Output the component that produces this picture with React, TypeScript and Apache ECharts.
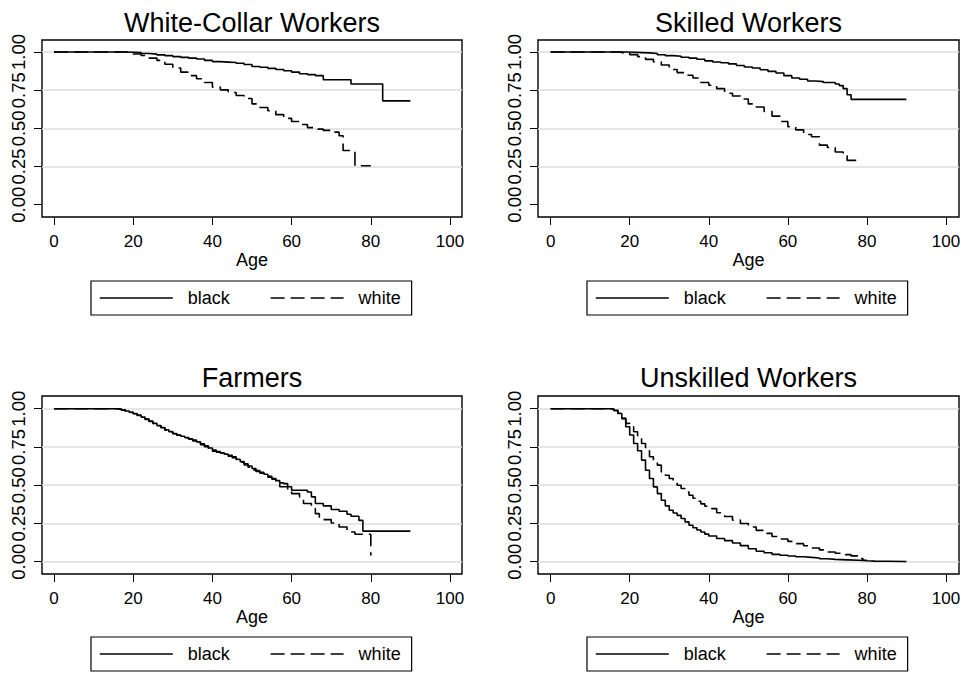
import React, { useEffect, useRef } from 'react';
import * as echarts from 'echarts';

const FONT = '"Liberation Sans", Arial, Helvetica, sans-serif';

// ---- text ----
const panelTitles = ['White-Collar Workers', 'Skilled Workers', 'Farmers', 'Unskilled Workers'];
const legendNames = ['black', 'white'];
const xAxisName = 'Age';

// ---- ticks ----
const xTicks = [0, 20, 40, 60, 80, 100];
const yTicks = [0, 0.25, 0.5, 0.75, 1];
const gridLinesTop = [0.25, 0.5, 0.75, 1];
const gridLinesBottom = [0, 0.25, 0.5, 0.75, 1];

// ---- data: [age, survival] (Kaplan-Meier step points) ----
const whiteCollarBlack: [number, number][] = [
  [0, 1], [17, 1], [18, 0.998], [20, 0.996], [22, 0.99], [24, 0.986], [26, 0.981], [28, 0.976],
  [30, 0.97], [32, 0.965], [34, 0.96], [36, 0.954], [38, 0.945], [40, 0.937], [42, 0.934],
  [44, 0.931], [46, 0.926], [48, 0.918], [50, 0.905], [52, 0.9], [54, 0.893], [56, 0.885],
  [58, 0.877], [60, 0.868], [62, 0.858], [64, 0.852], [66, 0.845], [68, 0.818], [75, 0.79],
  [83, 0.68], [90, 0.68],
];
const whiteCollarWhite: [number, number][] = [
  [0, 1], [17, 1], [18, 0.996], [20, 0.987], [22, 0.977], [24, 0.96], [26, 0.945], [28, 0.92],
  [30, 0.895], [32, 0.868], [34, 0.845], [36, 0.825], [38, 0.8], [40, 0.77], [42, 0.752],
  [44, 0.735], [46, 0.715], [48, 0.695], [50, 0.66], [52, 0.637], [54, 0.615], [56, 0.59],
  [58, 0.565], [60, 0.545], [62, 0.525], [64, 0.505], [66, 0.495], [68, 0.487], [70, 0.475],
  [72, 0.452], [73, 0.355], [76, 0.255], [80, 0.255],
];
const skilledBlack: [number, number][] = [
  [0, 1], [17, 1], [19, 0.998], [21, 0.996], [23, 0.994], [25, 0.99], [27, 0.982], [29, 0.976],
  [31, 0.972], [33, 0.966], [35, 0.96], [37, 0.953], [39, 0.942], [41, 0.935], [43, 0.93],
  [45, 0.922], [47, 0.912], [49, 0.902], [51, 0.895], [53, 0.884], [55, 0.873], [57, 0.862],
  [59, 0.845], [61, 0.83], [63, 0.822], [65, 0.81], [67, 0.806], [69, 0.8], [72, 0.79],
  [73, 0.78], [74, 0.76], [75, 0.72], [76, 0.69], [90, 0.69],
];
const skilledWhite: [number, number][] = [
  [0, 1], [17, 1], [18, 0.995], [20, 0.983], [22, 0.97], [24, 0.952], [26, 0.935], [28, 0.915],
  [30, 0.885], [32, 0.865], [34, 0.848], [36, 0.83], [38, 0.8], [40, 0.782], [42, 0.76],
  [44, 0.73], [46, 0.712], [48, 0.692], [50, 0.66], [52, 0.64], [54, 0.61], [56, 0.58],
  [58, 0.545], [60, 0.51], [62, 0.49], [64, 0.46], [66, 0.445], [68, 0.39], [70, 0.375],
  [72, 0.345], [74, 0.32], [75, 0.29], [78.5, 0.29],
];
const farmersBlack: [number, number][] = [
  [0, 1], [15, 1], [16, 0.997], [17, 0.992], [18, 0.985], [19, 0.977], [20, 0.969], [21, 0.958],
  [22, 0.945], [23, 0.932], [24, 0.918], [25, 0.904], [26, 0.89], [27, 0.877], [28, 0.862],
  [29, 0.85], [30, 0.838], [31, 0.828], [32, 0.82], [33, 0.812], [34, 0.804], [35, 0.795],
  [36, 0.783], [37, 0.77], [38, 0.757], [39, 0.743], [40, 0.729], [41, 0.72], [42, 0.712],
  [43, 0.703], [44, 0.695], [45, 0.686], [46, 0.67], [47, 0.655], [48, 0.64], [49, 0.625],
  [50, 0.609], [51, 0.595], [52, 0.585], [53, 0.572], [54, 0.558], [55, 0.544], [56, 0.53],
  [57, 0.515], [58, 0.51], [59, 0.49], [60, 0.467], [64, 0.456], [65, 0.424], [66, 0.38],
  [68, 0.365], [70, 0.341], [72, 0.33], [74, 0.31], [75, 0.297], [77, 0.27], [78, 0.2], [90, 0.2],
];
const farmersWhite: [number, number][] = [
  [0, 1], [15, 1], [16, 0.997], [17, 0.991], [18, 0.984], [19, 0.976], [20, 0.967], [21, 0.956],
  [22, 0.944], [23, 0.93], [24, 0.917], [25, 0.902], [26, 0.889], [27, 0.875], [28, 0.86],
  [29, 0.848], [30, 0.836], [31, 0.826], [32, 0.818], [33, 0.81], [34, 0.8], [35, 0.79],
  [36, 0.778], [37, 0.765], [38, 0.752], [39, 0.738], [40, 0.722], [41, 0.716], [42, 0.71],
  [43, 0.7], [44, 0.69], [45, 0.68], [46, 0.668], [47, 0.65], [48, 0.632], [49, 0.618],
  [50, 0.6], [51, 0.59], [52, 0.578], [53, 0.565], [54, 0.552], [55, 0.54], [56, 0.525],
  [57, 0.49], [59, 0.46], [60, 0.445], [62, 0.424], [63, 0.38], [65, 0.347], [66, 0.314],
  [67, 0.275], [70, 0.253], [72, 0.227], [74, 0.194], [76, 0.179], [80, 0.04],
];
const unskilledBlack: [number, number][] = [
  [0, 1], [14, 1], [15, 0.996], [16, 0.987], [17, 0.969], [18, 0.937], [19, 0.882], [20, 0.828],
  [21, 0.773], [22, 0.725], [23, 0.664], [24, 0.598], [25, 0.544], [26, 0.489], [27, 0.445],
  [28, 0.402], [29, 0.365], [30, 0.336], [31, 0.318], [32, 0.303], [33, 0.282], [34, 0.26],
  [35, 0.238], [36, 0.222], [37, 0.207], [38, 0.194], [39, 0.18], [40, 0.168], [42, 0.152],
  [44, 0.138], [46, 0.122], [48, 0.105], [50, 0.085], [52, 0.068], [54, 0.058], [56, 0.048],
  [58, 0.042], [60, 0.037], [62, 0.032], [64, 0.028], [66, 0.024], [68, 0.019], [70, 0.015],
  [72, 0.012], [75, 0.009], [78, 0.006], [80, 0.004], [82, 0.003], [85, 0.001], [90, 0.001],
];
const unskilledWhite: [number, number][] = [
  [0, 1], [14, 1], [15, 0.997], [16, 0.99], [17, 0.97], [18, 0.935], [19, 0.904], [20, 0.882],
  [21, 0.849], [22, 0.812], [23, 0.773], [24, 0.729], [25, 0.686], [26, 0.66], [27, 0.631],
  [28, 0.587], [29, 0.565], [30, 0.544], [31, 0.522], [32, 0.5], [33, 0.478], [34, 0.456],
  [35, 0.434], [36, 0.415], [37, 0.395], [38, 0.378], [39, 0.362], [40, 0.347], [42, 0.32],
  [44, 0.295], [46, 0.272], [48, 0.25], [50, 0.227], [52, 0.205], [54, 0.185], [56, 0.165],
  [58, 0.148], [60, 0.133], [62, 0.118], [64, 0.104], [66, 0.09], [68, 0.077], [70, 0.063],
  [72, 0.055], [74, 0.046], [76, 0.038], [78, 0.02], [79, 0.009], [80, 0.005],
];

const panelBlack = [whiteCollarBlack, skilledBlack, farmersBlack, unskilledBlack];
const panelWhite = [whiteCollarWhite, skilledWhite, farmersWhite, unskilledWhite];
const panelGridLines = [gridLinesTop, gridLinesTop, gridLinesBottom, gridLinesBottom];

// ---- layout (pixels) ----
const layout = [
  { left: 42, top: 40, width: 420, height: 177, xMin: -3.03, xMax: 103.03, yMin: -0.0806, yMax: 1.0786, titleX: 252, titleY: 9, legendX: 91, legendY: 281 },
  { left: 538, top: 40, width: 421, height: 177, xMin: -3.2, xMax: 103.3, yMin: -0.0806, yMax: 1.0786, titleX: 748.5, titleY: 9, legendX: 587, legendY: 281 },
  { left: 42, top: 396, width: 420, height: 178, xMin: -3.03, xMax: 103.03, yMin: -0.0804, yMax: 1.083, titleX: 252, titleY: 364, legendX: 91, legendY: 637 },
  { left: 538, top: 396, width: 421, height: 178, xMin: -3.2, xMax: 103.3, yMin: -0.0804, yMax: 1.083, titleX: 748.5, titleY: 364, legendX: 587, legendY: 637 },
];

const DASH = [14, 6];

function buildOption() {
  const grid: any[] = [];
  const xAxis: any[] = [];
  const yAxis: any[] = [];
  const title: any[] = [];
  const legend: any[] = [];
  const series: any[] = [];

  layout.forEach((p, i) => {
    grid.push({
      left: p.left, top: p.top, width: p.width, height: p.height,
      show: true, borderColor: '#000', borderWidth: 1.4, backgroundColor: 'transparent',
      containLabel: false, outerBoundsMode: 'none',
    });
    xAxis.push({
      type: 'value', gridIndex: i, min: p.xMin, max: p.xMax,
      name: xAxisName, nameLocation: 'middle', nameGap: 33,
      nameTextStyle: { fontSize: 18, color: '#000', fontFamily: FONT },
      axisLine: { show: false, onZero: false },
      axisTick: { show: true, length: 8, customValues: xTicks, lineStyle: { color: '#000', width: 1 } },
      axisLabel: { customValues: xTicks, fontSize: 17, color: '#000', margin: 16, fontFamily: FONT },
      splitLine: { show: false },
    });
    yAxis.push({
      type: 'value', gridIndex: i, min: p.yMin, max: p.yMax,
      axisLine: { show: false, onZero: false },
      axisTick: { show: true, length: 8, customValues: yTicks, lineStyle: { color: '#000', width: 1 } },
      axisLabel: {
        customValues: yTicks, fontSize: 18.5, color: '#000', margin: 14, rotate: 90, fontFamily: FONT,
        formatter: (v: number) => v.toFixed(2),
      },
      splitLine: { show: false },
    });
    title.push({
      text: panelTitles[i], left: p.titleX, top: p.titleY, textAlign: 'center', padding: 0,
      textStyle: { fontSize: 27, fontWeight: 'normal', color: '#000', fontFamily: FONT },
    });
    legend.push({
      data: legendNames, left: p.legendX, top: p.legendY, orient: 'horizontal',
      itemWidth: 73, itemHeight: 14, itemGap: 40, selectedMode: false,
      padding: [8, 11, 8, 8], borderColor: '#000', borderWidth: 1.2,
      itemStyle: { opacity: 0, borderWidth: 0 },
      lineStyle: { width: 1.6 },
      textStyle: { fontSize: 18, color: '#000', fontFamily: FONT, padding: [0, 0, 0, 10] },
    });
    // gridlines
    series.push({
      type: 'line', name: 'grid' + i, xAxisIndex: i, yAxisIndex: i, data: [], silent: true,
      markLine: {
        silent: true, symbol: ['none', 'none'], z: 1, animation: false,
        label: { show: false },
        lineStyle: { color: '#dcdcdc', width: 1.5, type: 'solid' },
        emphasis: { disabled: true },
        data: panelGridLines[i].map((v) => ({ yAxis: v })),
      },
    });
    series.push({
      type: 'line', name: legendNames[0], xAxisIndex: i, yAxisIndex: i, step: 'end',
      symbol: 'none', showSymbol: false, z: 3, silent: true,
      lineStyle: { color: '#000', width: 1.6, type: 'solid' },
      itemStyle: { color: '#000' },
      data: panelBlack[i],
    });
    series.push({
      type: 'line', name: legendNames[1], xAxisIndex: i, yAxisIndex: i, step: 'end',
      symbol: 'none', showSymbol: false, z: 3, silent: true,
      lineStyle: { color: '#000', width: 1.6, type: DASH },
      itemStyle: { color: '#000' },
      data: panelWhite[i],
    });
  });

  return {
    animation: false,
    backgroundColor: '#fff',
    textStyle: { fontFamily: FONT },
    title, legend, grid, xAxis, yAxis, series,
  };
}

export default function App() {
  const ref = useRef<HTMLDivElement>(null);
  useEffect(() => {
    if (!ref.current) return;
    const chart = echarts.init(ref.current, undefined, { renderer: 'svg' });
    chart.setOption(buildOption() as any);
    return () => chart.dispose();
  }, []);
  return (
    <div
      ref={ref}
      style={{ position: 'fixed', left: 0, top: 0, width: 965, height: 674, background: '#fff' }}
    />
  );
}
